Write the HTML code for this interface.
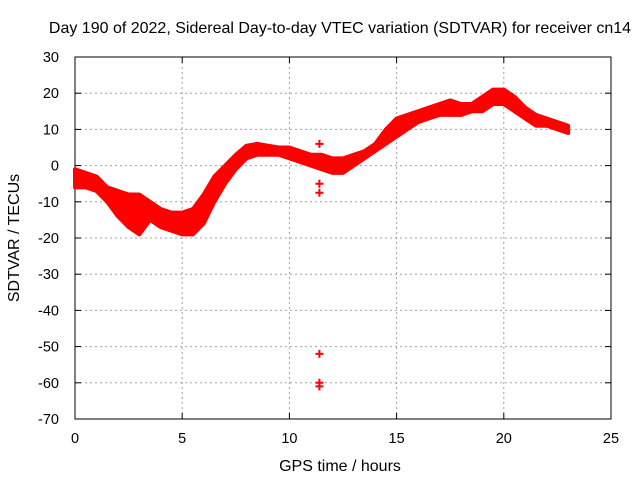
<!DOCTYPE html>
<html><head><meta charset="utf-8"><style>
body{margin:0;background:#fff;}
svg text{font-family:"Liberation Sans",sans-serif;font-size:14.5px;fill:#000;}
svg text.big{font-size:16px;}
</style></head><body>
<svg id="c" width="640" height="480" xmlns="http://www.w3.org/2000/svg"></svg>
<script>
const times=[0,0.5,1,1.5,2,2.5,3,3.5,4,4.5,5,5.5,6,6.5,7,7.5,8,8.5,9,9.5,10,10.5,11,11.5,12,12.5,13,13.5,14,14.5,15,15.5,16,16.5,17,17.5,18,18.5,19,19.5,20,20.5,21,21.5,22,22.5,23];
const upper=[-1,-2,-3,-6,-7,-8,-8,-10,-12,-13,-13,-12,-8,-3,0,3,5.5,6,5.5,5,5,4,3,3,2,2,3,4,6,10,13,14,15,16,17,18,17,17,19,21,21,19,16,14,13,12,11];
const lower=[-6,-6,-7,-10,-14,-17,-19,-15,-17,-18,-19,-19,-16,-10,-5,-1,2,3,3,3,2,1,0,-1,-2,-2,0,2,4,6,8,10,12,13,14,14,14,15,15,17,17,15,13,11,11,10,9];
const outlierT=[11.4,11.4,11.4,11.4,11.4,11.4];
const outlierV=[6,-5,-7.5,-52,-60,-61];
const xTicks=[0,5,10,15,20,25];
const yTicks=[30,20,10,0,-10,-20,-30,-40,-50,-60,-70];
const L=75,R=611,T=57,B=419;
const X=t=>L+(t/25)*(R-L);
const Y=v=>T+(30-v)/100*(B-T);
const svg=document.getElementById('c');
const NS='http://www.w3.org/2000/svg';
function mk(tag,attrs,parent){const e=document.createElementNS(NS,tag);for(const k in attrs)e.setAttribute(k,attrs[k]);(parent||svg).appendChild(e);return e;}
xTicks.forEach(t=>{
  const g=mk('line',{x1:X(t),x2:X(t),y1:T,y2:B,stroke:'#a0a0a0','stroke-dasharray':'2,3'});
  
  
  mk('line',{x1:X(t),x2:X(t),y1:B,y2:B-6,stroke:'#000'});
  mk('line',{x1:X(t),x2:X(t),y1:T,y2:T+6,stroke:'#000'});
  const tx=mk('text',{x:X(t),y:B+24,'text-anchor':'middle'});tx.textContent=t;
  
  
});
yTicks.forEach(v=>{
  const g=mk('line',{x1:L,x2:R,y1:Y(v),y2:Y(v),stroke:'#a0a0a0','stroke-dasharray':'2,3'});
  
  
  mk('line',{x1:L,x2:L+6,y1:Y(v),y2:Y(v),stroke:'#000'});
  mk('line',{x1:R,x2:R-6,y1:Y(v),y2:Y(v),stroke:'#000'});
  const tx=mk('text',{x:L-16,y:Y(v)+5,'text-anchor':'end'});tx.textContent=v;
  
  
});
const fr=mk('rect',{x:L,y:T,width:R-L,height:B-T,fill:'none',stroke:'#000'});


let pts=times.map((t,i)=>X(t)+','+Y(upper[i])).concat(times.map((t,i)=>X(t)+','+Y(lower[i])).reverse());
const band=mk('polygon',{points:pts.join(' '),fill:'#ff0000',stroke:'#ff0000','stroke-width':4,'stroke-linejoin':'round'});


function plus(x,y){const p=mk('path',{d:`M${x-4},${y}h8M${x},${y-4}v8`,stroke:'#ff0000','stroke-width':2});return p;}
outlierT.forEach((t,i)=>{
  const p=plus(X(t),Y(outlierV[i]));
  
  
});
const title=mk('text',{x:340,y:33,'text-anchor':'middle','class':'big'});title.textContent='Day 190 of 2022, Sidereal Day-to-day VTEC variation (SDTVAR) for receiver cn14';


const xl=mk('text',{x:340,y:471,'text-anchor':'middle','class':'big'});xl.textContent='GPS time / hours';


const yl=mk('text',{x:0,y:0,'text-anchor':'middle','class':'big',transform:'translate(19,238) rotate(-90)'});yl.textContent='SDTVAR / TECUs';


</script>
</body></html>
